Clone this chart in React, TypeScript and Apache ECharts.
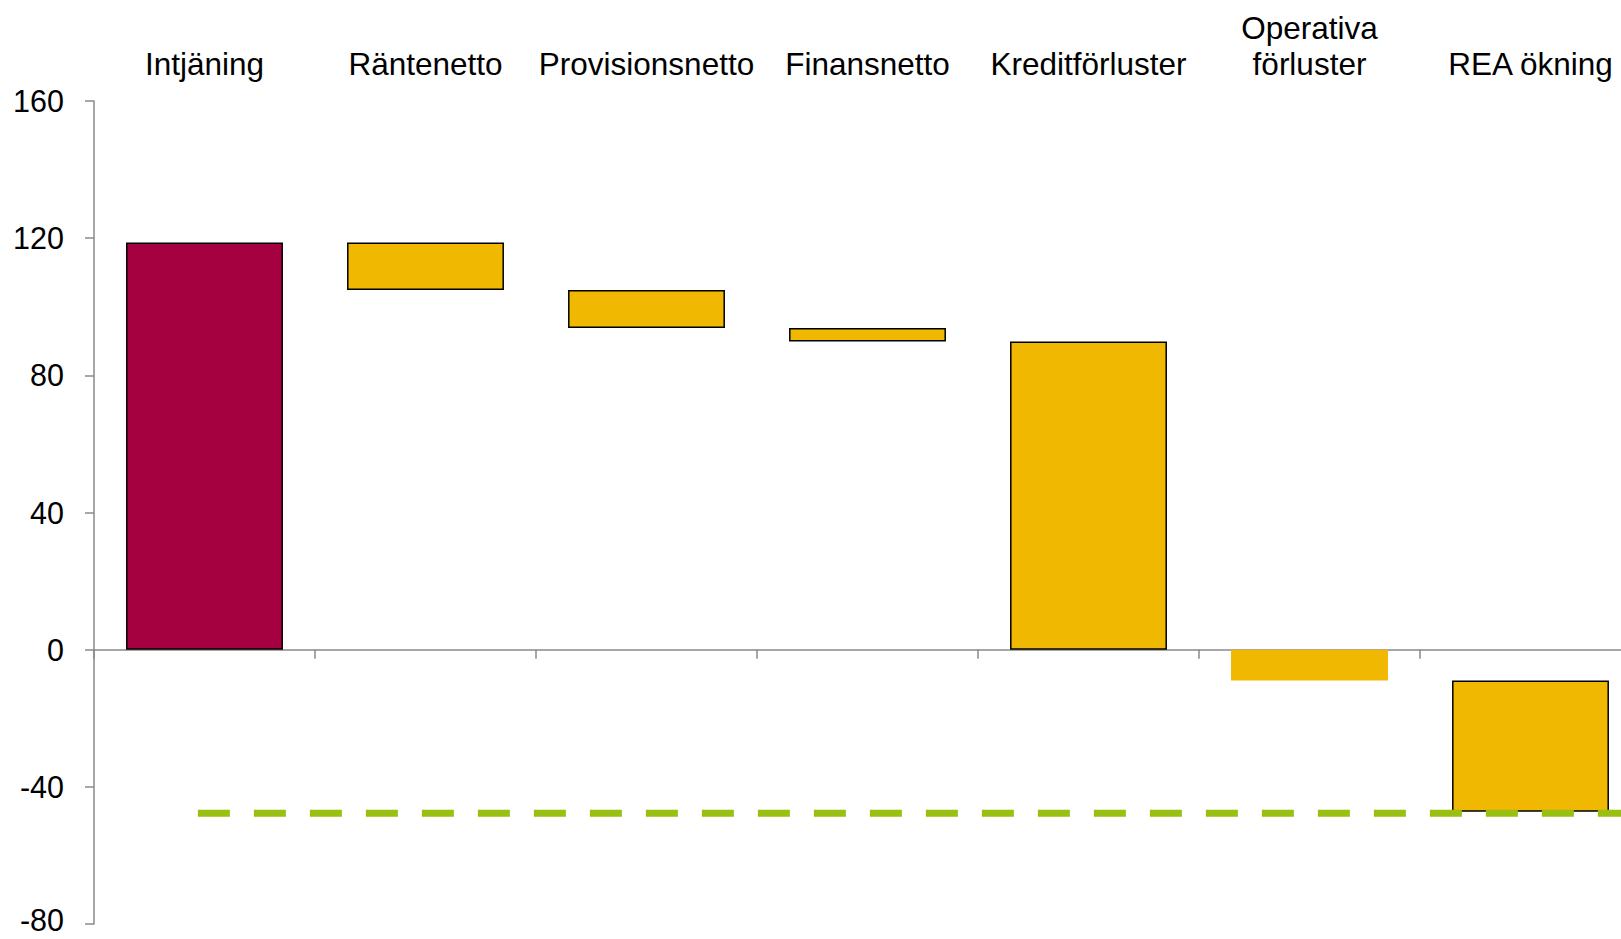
import React, { useEffect, useRef } from "react";
import * as echarts from "echarts";

const categories = [
  "Intjäning",
  "Räntenetto",
  "Provisionsnetto",
  "Finansnetto",
  "Kreditförluster",
  "Operativa\nförluster",
  "REA ökning",
];
// waterfall bar start / end levels
const barStart = [0, 118.7, 104.9, 93.8, 0, 0, -9];
const barEnd = [118.7, 104.9, 93.8, 89.9, 89.9, -9, -47.3];
const barColors = ["#A50040", "#F0B800", "#F0B800", "#F0B800", "#F0B800", "#F0B800", "#F0B800"];
const barBorder = [true, true, true, true, true, false, true];
const refLineX = [0.47, 7];
const refLineLevel = -47.7;
const yTicks = { min: -80, max: 160, interval: 40 };

const FONT = "'Liberation Sans', Arial, sans-serif";

export default function App() {
  const ref = useRef<HTMLDivElement>(null);
  useEffect(() => {
    if (!ref.current) return;
    const chart = echarts.init(ref.current, null, { renderer: "svg" });
    const base = barStart.map((s, i) => {
      const e = barEnd[i];
      if (s >= 0 && e >= 0) return Math.min(s, e);
      return Math.max(s, e);
    });
    const vals = barStart.map((s, i) => {
      const e = barEnd[i];
      const d = Math.abs(e - s);
      return s >= 0 && e >= 0 ? d : -d;
    });
    const axisGrey = "#8a8a8a";
    chart.setOption({
      animation: false,
      textStyle: { fontFamily: FONT },
      grid: {
        left: 94,
        top: 101,
        height: 823,
        width: 1547,
        containLabel: false,
        outerBoundsMode: "none",
      },
      xAxis: [
        {
          type: "category",
          data: categories,
          axisLine: { onZero: true, lineStyle: { color: axisGrey, width: 1.5 } },
          axisTick: { show: true, length: 9, interval: 0, lineStyle: { color: axisGrey, width: 1.5 } },
          axisLabel: { show: false },
          splitLine: { show: false },
        },
        {
          type: "category",
          data: categories,
          position: "top",
          axisLine: { show: false },
          axisTick: { show: false },
          axisLabel: {
            interval: 0,
            fontSize: 31.5,
            lineHeight: 36,
            color: "#000",
            fontFamily: FONT,
            margin: 19,
          },
        },
        {
          type: "value",
          min: 0,
          max: 7,
          show: false,
        },
      ],
      yAxis: {
        type: "value",
        min: yTicks.min,
        max: yTicks.max,
        interval: yTicks.interval,
        axisLine: { show: true, lineStyle: { color: axisGrey, width: 1.5 } },
        axisTick: { show: true, length: 9, lineStyle: { color: axisGrey, width: 1.5 } },
        splitLine: { show: false },
        axisLabel: {
          fontSize: 30.5,
          lineHeight: 26,
          color: "#000",
          fontFamily: FONT,
          margin: 30,
          formatter: (v: number) => (v === yTicks.min ? `{low|${v}}` : `${v}`),
          rich: {
            low: {
              fontSize: 30.5,
              lineHeight: 26,
              color: "#000",
              fontFamily: FONT,
              padding: [0, 0, 8, 0],
            },
          },
        },
      },
      series: [
        {
          type: "bar",
          stack: "w",
          xAxisIndex: 0,
          barWidth: "71%",
          data: base,
          itemStyle: { color: "transparent", borderWidth: 0 },
          silent: true,
        },
        {
          type: "bar",
          stack: "w",
          xAxisIndex: 0,
          barWidth: "71%",
          data: vals.map((v, i) => ({
            value: v,
            itemStyle: {
              color: barColors[i],
              borderColor: "#000",
              borderWidth: barBorder[i] ? 1.5 : 0,
            },
          })),
        },
        {
          type: "line",
          xAxisIndex: 2,
          data: refLineX.map((x) => [x, refLineLevel]),
          symbol: "none",
          lineStyle: { color: "#99C010", width: 7, type: [32, 24], cap: "butt" },
          z: 5,
        },
      ],
    });
    return () => chart.dispose();
  }, []);
  return (
    <div
      ref={ref}
      style={{ position: "fixed", left: 0, top: 0, width: 1621, height: 939, background: "#fff" }}
    />
  );
}
